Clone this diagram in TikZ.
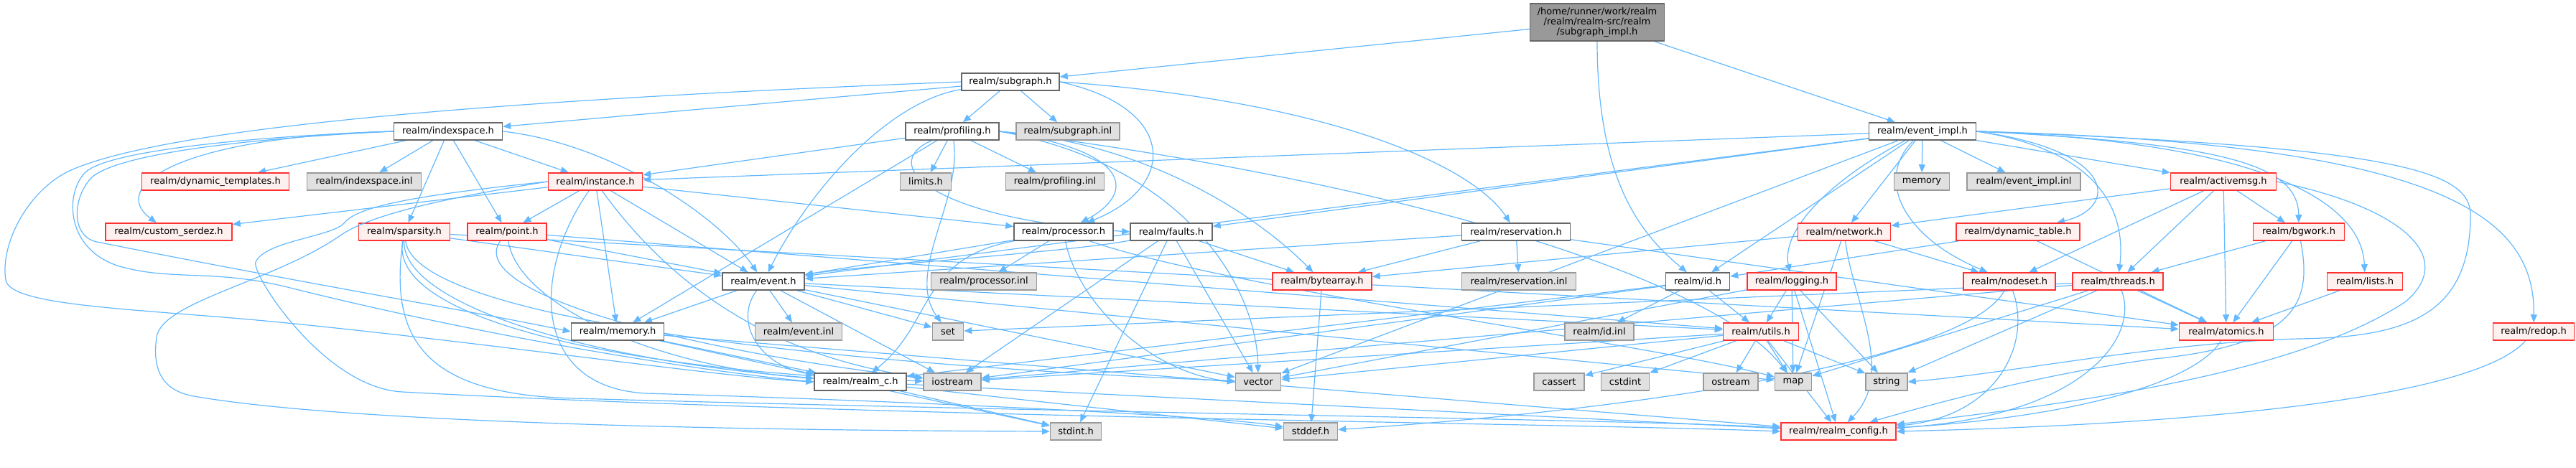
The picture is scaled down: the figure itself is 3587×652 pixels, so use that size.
\documentclass[tikz,border=0pt]{standalone}
\usepackage{fontspec}
\setmainfont{DejaVu Sans}
\usetikzlibrary{arrows.meta,backgrounds}
\definecolor{edgeblue}{HTML}{63B8FF}
\definecolor{redfill}{HTML}{FFF0F0}
\definecolor{grayfill}{HTML}{E0E0E0}
\definecolor{grayline}{HTML}{999999}
\definecolor{darkline}{HTML}{666666}
\definecolor{redline}{HTML}{FF3030}
\tikzset{
  base/.style={rectangle, inner sep=0pt, minimum height=12pt, line width=0.75pt,
    font=\fontsize{6.5pt}{7pt}\selectfont},
  wb/.style={base, draw=darkline, fill=white},
  rb/.style={base, draw=redline, fill=redfill},
  gb/.style={base, draw=grayline, fill=grayfill},
  tb/.style={base, draw=darkline, fill=grayline, align=center},
  e/.style={draw=edgeblue, line width=0.6pt, -{Triangle[length=5.5pt,width=4.5pt]}}
}
\begin{document}
\begin{tikzpicture}[x=0.5pt,y=-0.5pt]
\useasboundingbox (0,0) rectangle (3587,652);
% row 0
\node[tb, minimum width=93.5pt, minimum height=26pt] (top) at (2224,31) {/home/runner/work/realm\\/realm/realm-src/realm\\/subgraph\_impl.h};
% row 1
\node[wb, minimum width=68pt] (subgraph) at (1407,114) {realm/subgraph.h};
% row 2
\node[wb, minimum width=75.5pt] (indexspace) at (624,183) {realm/indexspace.h};
\node[wb, minimum width=65pt] (profiling) at (1326,183) {realm/profiling.h};
\node[gb, minimum width=72pt] (subgraphinl) at (1487,183) {realm/subgraph.inl};
\node[wb, minimum width=74.5pt] (eventimpl) at (2677,183) {realm/event\_impl.h};
% row 3
\node[rb, minimum width=102.5pt] (dyntempl) at (300,253) {realm/dynamic\_templates.h};
\node[gb, minimum width=79.5pt] (indexinl) at (507,253) {realm/indexspace.inl};
\node[rb, minimum width=65.5pt] (instance) at (829,253) {realm/instance.h};
\node[gb, minimum width=35.5pt] (limits) at (1289,253) {limits.h};
\node[gb, minimum width=68.5pt] (profinl) at (1469,253) {realm/profiling.inl};
\node[gb, minimum width=38.5pt] (memstd) at (2676,253) {memory};
\node[gb, minimum width=79pt] (eventimplinl) at (2818,253) {realm/event\_impl.inl};
\node[rb, minimum width=73.5pt] (activemsg) at (3096,253) {realm/activemsg.h};
% row 4
\node[rb, minimum width=88pt] (serdez) at (235,323) {realm/custom\_serdez.h};
\node[rb, minimum width=63.5pt] (sparsity) at (563,323) {realm/sparsity.h};
\node[rb, minimum width=55pt] (point) at (706,323) {realm/point.h};
\node[wb, minimum width=69pt] (processor) at (1481,323) {realm/processor.h};
\node[wb, minimum width=57pt] (faults) at (1631,323) {realm/faults.h};
\node[wb, minimum width=75.5pt] (reservation) at (2111,323) {realm/reservation.h};
\node[rb, minimum width=64.5pt] (network) at (2568,323) {realm/network.h};
\node[rb, minimum width=86pt] (dyntable) at (2810,323) {realm/dynamic\_table.h};
\node[rb, minimum width=63.5pt] (bgwork) at (3201,323) {realm/bgwork.h};
% row 5
\node[wb, minimum width=57pt] (event) at (1063,392) {realm/event.h};
\node[gb, minimum width=73.5pt] (procinl) at (1370,392) {realm/processor.inl};
\node[rb, minimum width=69pt] (bytearray) at (1841,392) {realm/bytearray.h};
\node[gb, minimum width=79.5pt] (resinl) at (2115,392) {realm/reservation.inl};
\node[wb, minimum width=44.5pt] (id) at (2364,392) {realm/id.h};
\node[rb, minimum width=62pt] (logging) at (2495,392) {realm/logging.h};
\node[rb, minimum width=64pt] (nodeset) at (2798,392) {realm/nodeset.h};
\node[rb, minimum width=63pt] (threads) at (2949,392) {realm/threads.h};
\node[rb, minimum width=52.5pt] (lists) at (3293,392) {realm/lists.h};
% row 6
\node[wb, minimum width=64.5pt] (memory) at (860,462) {realm/memory.h};
\node[gb, minimum width=60.5pt] (eventinl) at (1112,462) {realm/event.inl};
\node[gb, minimum width=21.5pt] (set) at (1320,462) {set};
\node[gb, minimum width=48pt] (idinl) at (2227,462) {realm/id.inl};
\node[rb, minimum width=52.5pt] (utils) at (2452,462) {realm/utils.h};
\node[rb, minimum width=65.5pt] (atomics) at (3100,462) {realm/atomics.h};
\node[rb, minimum width=56.5pt] (redop) at (3528,462) {realm/redop.h};
% row 7
\node[wb, minimum width=64pt] (realmc) at (1198,532) {realm/realm\_c.h};
\node[gb, minimum width=40pt] (iostream) at (1326,532) {iostream};
\node[gb, minimum width=31.5pt] (vector) at (1752,532) {vector};
\node[gb, minimum width=35pt] (cassert) at (2171,532) {cassert};
\node[gb, minimum width=33.5pt] (cstdint) at (2263,532) {cstdint};
\node[gb, minimum width=38pt] (ostream) at (2410,532) {ostream};
\node[gb, minimum width=25.5pt] (map) at (2497,532) {map};
\node[gb, minimum width=29pt] (string) at (2627,532) {string};
% row 8
\node[gb, minimum width=35.5pt] (stdint) at (1498,601) {stdint.h};
\node[gb, minimum width=37.5pt] (stddef) at (1825,601) {stddef.h};
\node[rb, minimum width=80pt] (config) at (2560,601) {realm/realm\_config.h};

% far-left loops (drawn on the main layer)
\draw[e] (subgraph.west) .. controls (800,135) and (250,170) .. (99,237) .. controls (39,264) and (0,340) .. (8,390) .. controls (14,428) and (200,430) .. (400,450) .. controls (700,480) and (1000,525) .. (realmc.west);
\draw[e] (indexspace.west) .. controls (300,195) and (150,220) .. (125,250) .. controls (100,280) and (100,330) .. (135,337) .. controls (435,397) and (650,432) .. (memory.west);
\draw[e] (indexspace.west) .. controls (350,190) and (150,210) .. (119,240) .. controls (90,268) and (90,350) .. (170,372) .. controls (240,391) and (300,375) .. (400,400) .. controls (700,475) and (1000,520) .. (realmc.west);
\draw[e] (instance.west) .. controls (560,285) and (500,310) .. (474,328) .. controls (380,393) and (225,420) .. (218,470) .. controls (211,520) and (230,545) .. (270,552) .. controls (500,592) and (1100,600) .. (stdint.west);
\draw[e] (instance.west) .. controls (600,270) and (500,285) .. (480,310) .. controls (464,330) and (370,335) .. (356,365) .. controls (349,380) and (450,540) .. (560,546) .. controls (1200,581) and (2200,590) .. (config.west);

\begin{pgfonlayer}{background}
% top
\draw[e] (top) -- (subgraph);
\draw[e] (top) -- (eventimpl);
\draw[e] (top) .. controls (2224,260) and (2290,330) .. (id);
% subgraph
\draw[e] (subgraph) -- (indexspace);
\draw[e] (subgraph) -- (profiling);
\draw[e] (subgraph) -- (subgraphinl);
\draw[e] (subgraph.east) .. controls (1640,150) and (1640,260) .. (processor);
\draw[e] (subgraph.east) .. controls (1850,140) and (2050,230) .. (reservation);
\draw[e] (subgraph) .. controls (1240,140) and (1130,260) .. (event);
% indexspace
\draw[e] (indexspace) -- (dyntempl);
\draw[e] (indexspace) -- (indexinl);
\draw[e] (indexspace) -- (sparsity);
\draw[e] (indexspace) -- (point);
\draw[e] (indexspace) -- (instance);
\draw[e] (indexspace.west) .. controls (250,190) and (150,260) .. (serdez);
\draw[e] (indexspace.east) .. controls (850,200) and (1000,300) .. (event);
% instance
\draw[e] (instance) -- (serdez);
\draw[e] (instance) -- (point);
\draw[e] (instance) -- (memory);
\draw[e] (instance) -- (event);
\draw[e] (instance) -- (processor);
\draw[e] (instance) .. controls (740,380) and (740,540) .. (900,548) .. controls (1300,560) and (1700,580) .. (stddef);
\draw[e] (instance) .. controls (950,420) and (1100,500) .. (iostream);
% point / sparsity
\draw[e] (point) -- (event);
\draw[e] (point) -- (utils);
\draw[e] (point) .. controls (720,420) and (900,510) .. (realmc);
\draw[e] (point) .. controls (650,400) and (900,480) .. (iostream);
\draw[e] (sparsity) -- (event);
\draw[e] (sparsity) -- (atomics);
\draw[e] (sparsity) .. controls (560,420) and (800,500) .. (realmc);
\draw[e] (sparsity) .. controls (540,450) and (900,520) .. (iostream);
\draw[e] (sparsity) .. controls (580,450) and (1200,510) .. (vector);
\draw[e] (sparsity) .. controls (540,480) and (600,550) .. (800,555) .. controls (1500,575) and (2300,585) .. (config);
% profiling
\draw[e] (profiling) -- (limits);
\draw[e] (profiling) -- (profinl);
\draw[e] (profiling) -- (instance);
\draw[e] (profiling) -- (memory);
\draw[e] (profiling.east) .. controls (1580,210) and (1580,270) .. (processor);
\draw[e] (profiling) .. controls (1220,230) and (1300,305) .. (faults.west);
\draw[e] (profiling.east) .. controls (1600,200) and (1750,300) .. (bytearray);
\draw[e] (profiling) .. controls (1340,280) and (1260,380) .. (set);
\draw[e] (profiling.east) .. controls (1650,230) and (1750,400) .. (vector);
\draw[e] (profiling.east) .. controls (2000,260) and (2400,400) .. (map);
% processor
\draw[e] (processor) -- (procinl);
\draw[e] (processor) -- (event);
\draw[e] (processor) .. controls (1280,360) and (1300,450) .. (realmc);
\draw[e] (processor) .. controls (1500,420) and (1600,520) .. (vector.west);
\draw[e] (processor) .. controls (1700,400) and (2300,480) .. (map);
% faults
\draw[e] (faults) .. controls (1500,350) and (1200,370) .. (event);
\draw[e] (faults) -- (bytearray);
\draw[e] (faults) -- (vector);
\draw[e] (faults) -- (stdint);
\draw[e] (faults) -- (iostream);
% reservation
\draw[e] (reservation) -- (resinl);
\draw[e] (reservation) -- (bytearray);
\draw[e] (reservation) -- (event);
\draw[e] (reservation) -- (atomics);
% event
\draw[e] (event) -- (memory);
\draw[e] (event) -- (eventinl);
\draw[e] (event) .. controls (1020,450) and (1060,510) .. (realmc);
\draw[e] (event) -- (utils);
\draw[e] (event) -- (set);
\draw[e] (event) -- (vector);
\draw[e] (event) -- (map);
\draw[e] (event) -- (iostream);
% memory
\draw[e] (memory) -- (realmc);
\draw[e] (memory) -- (stdint);
\draw[e] (memory) -- (config);
% realm_c, bytearray
\draw[e] (realmc) -- (stdint);
\draw[e] (realmc) -- (stddef);
\draw[e] (realmc) -- (config);
\draw[e] (bytearray) -- (stddef);
% id
\draw[e] (id) -- (idinl);
\draw[e] (id) -- (utils);
\draw[e] (id) -- (realmc);
\draw[e] (id) -- (iostream);
% utils
\draw[e] (utils) -- (cassert);
\draw[e] (utils) -- (cstdint);
\draw[e] (utils) -- (ostream);
\draw[e] (utils) -- (map);
\draw[e] (utils) -- (string);
\draw[e] (utils) -- (config);
\draw[e] (utils) -- (vector);
\draw[e] (utils) -- (iostream);
% logging
\draw[e] (logging) -- (utils);
\draw[e] (logging) -- (map);
\draw[e] (logging) -- (string);
\draw[e] (logging) -- (config);
\draw[e] (logging) -- (vector);
% network
\draw[e] (network) -- (bytearray);
\draw[e] (network) -- (nodeset);
\draw[e] (network) -- (map);
\draw[e] (network) .. controls (2580,420) and (2640,520) .. (config);
% dynamic table, nodeset
\draw[e] (dyntable) -- (id);
\draw[e] (dyntable) -- (atomics);
\draw[e] (nodeset) .. controls (2830,480) and (2780,580) .. (config);
\draw[e] (nodeset) .. controls (2740,500) and (2300,570) .. (stddef);
% threads
\draw[e] (threads) -- (set);
\draw[e] (threads) -- (map);
\draw[e] (threads) -- (string);
\draw[e] (threads) .. controls (2980,470) and (2900,580) .. (config);
\draw[e] (threads) -- (atomics);
\draw[e] (threads) -- (iostream);
% activemsg
\draw[e] (activemsg) -- (network);
\draw[e] (activemsg) -- (nodeset);
\draw[e] (activemsg) -- (threads);
\draw[e] (activemsg) -- (bgwork);
\draw[e] (activemsg) -- (atomics);
\draw[e] (activemsg.east) .. controls (3350,290) and (3420,360) .. (3350,420) .. controls (3200,520) and (2900,560) .. (config);
% bgwork, lists, redop, atomics
\draw[e] (bgwork) -- (threads);
\draw[e] (bgwork) -- (atomics);
\draw[e] (bgwork) .. controls (3220,420) and (3200,480) .. (3000,500) .. controls (2850,520) and (2700,560) .. (config);
\draw[e] (lists) -- (atomics);
\draw[e] (redop) .. controls (3450,550) and (3100,590) .. (config.east);
\draw[e] (atomics) .. controls (3060,530) and (2900,580) .. (config);
% event_impl
\draw[e] (eventimpl) -- (instance);
\draw[e] (eventimpl) -- (faults);
\draw[e] (eventimpl) -- (event);
\draw[e] (eventimpl) -- (id);
\draw[e] (eventimpl) -- (network);
\draw[e] (eventimpl) .. controls (2550,250) and (2480,320) .. (logging);
\draw[e] (eventimpl) .. controls (2610,250) and (2650,330) .. (nodeset);
\draw[e] (eventimpl) -- (memstd);
\draw[e] (eventimpl) -- (eventimplinl);
\draw[e] (eventimpl.east) .. controls (2950,210) and (2950,290) .. (dyntable);
\draw[e] (eventimpl.east) .. controls (2930,210) and (2960,300) .. (threads);
\draw[e] (eventimpl) -- (activemsg);
\draw[e] (eventimpl.east) .. controls (3100,200) and (3200,230) .. (bgwork);
\draw[e] (eventimpl.east) .. controls (3200,200) and (3290,300) .. (lists);
\draw[e] (eventimpl.east) .. controls (3400,200) and (3530,300) .. (redop);
\draw[e] (eventimpl) -- (vector);
\draw[e] (eventimpl.east) .. controls (3350,205) and (3440,240) .. (3440,300) .. controls (3440,440) and (3350,470) .. (3200,472) .. controls (3000,478) and (2800,520) .. (string.east);
\end{pgfonlayer}
\end{tikzpicture}
\end{document}
